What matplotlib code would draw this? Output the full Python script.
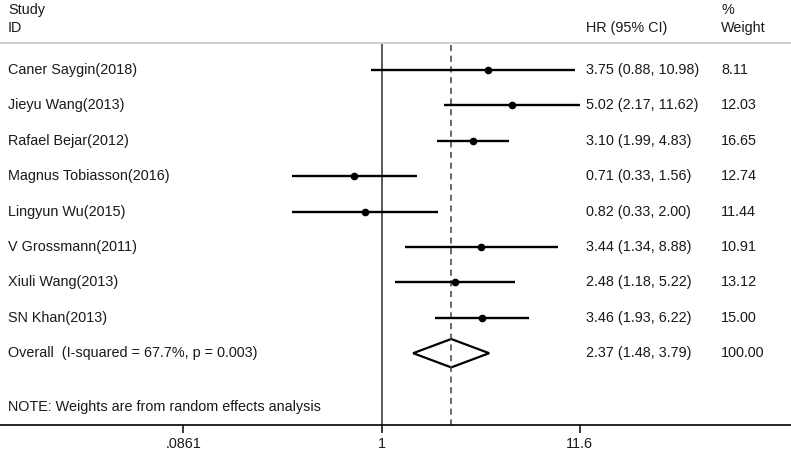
import numpy as np
import matplotlib.pyplot as plt

plt.rcParams["font.family"] = ["Liberation Sans", "DejaVu Sans"]

studies = ["Caner Saygin(2018)", "Jieyu Wang(2013)", "Rafael Bejar(2012)",
           "Magnus Tobiasson(2016)", "Lingyun Wu(2015)", "V Grossmann(2011)",
           "Xiuli Wang(2013)", "SN Khan(2013)"]
hr = [3.75, 5.02, 3.10, 0.71, 0.82, 3.44, 2.48, 3.46]
lo = [0.88, 2.17, 1.99, 0.33, 0.33, 1.34, 1.18, 1.93]
hi = [10.98, 11.62, 4.83, 1.56, 2.00, 8.88, 5.22, 6.22]
weights = ["8.11", "12.03", "16.65", "12.74", "11.44", "10.91", "13.12", "15.00"]
overall_label = "Overall  (I-squared = 67.7%, p = 0.003)"
overall = (2.37, 1.48, 3.79)
overall_weight = "100.00"
note = "NOTE: Weights are from random effects analysis"
xticks = [0.0861, 1, 11.6]
xticklabels = [".0861", "1", "11.6"]

W, H = 791, 451
fig = plt.figure(figsize=(W / 100, H / 100), dpi=100)
axis_px = 425
ax = fig.add_axes([0, (H - axis_px) / H, 1, axis_px / H])

# pixel layout of the original: x = 381.5 + 80.8 * ln(v), rows every 35.4 px
x0, k = 381.5, 80.8
ax.set_xscale("log")
ax.set_xlim(np.exp(-x0 / k), np.exp((W - x0) / k))
row0, step = 70, 35.4


def py(p):
    return (p - row0) / step


ax.set_ylim(py(axis_px), py(0))

fs = 10.4


def tx(px, y, s, **kw):
    ax.text(px / W, y, s, transform=ax.get_yaxis_transform(), fontsize=fs,
            va="center", color="#1a1a1a", **kw)


# headers
tx(8, py(10), "Study")
tx(8, py(28), "ID")
tx(586, py(28), "HR (95% CI)")
tx(721, py(10), "%")
tx(721, py(28), "Weight")
ax.axhline(py(43), color="#c8c8c8", lw=1.2)

# reference lines
ax.plot([1, 1], [py(45), py(axis_px)], color="#5a5a5a", lw=1.4)
ax.plot([overall[0]] * 2, [py(45), py(axis_px)], color="#404040", lw=1.1,
        dashes=(4, 3))

for i, name in enumerate(studies):
    ax.plot([lo[i], hi[i]], [i, i], color="black", lw=1.7, solid_capstyle="butt")
    ax.plot(hr[i], i, "o", color="black", ms=4.5)
    tx(8, i, name)
    tx(586, i, f"{hr[i]:.2f} ({lo[i]:.2f}, {hi[i]:.2f})")
    tx(721, i, weights[i])

# overall diamond
yo = len(studies)
est, l, h = overall
dh = 14.2 / step
ax.fill([l, est, h, est, l], [yo, yo - dh, yo, yo + dh, yo], facecolor="none",
        edgecolor="black", lw=1.6)
tx(8, yo, overall_label)
tx(586, yo, f"{est:.2f} ({l:.2f}, {h:.2f})")
tx(721, yo, overall_weight)

tx(8, py(407), note)

for s in ["top", "left", "right"]:
    ax.spines[s].set_visible(False)
ax.spines["bottom"].set_linewidth(1.2)
ax.set_yticks([])
ax.set_xticks(xticks)
ax.set_xticklabels(xticklabels, fontsize=fs)
ax.xaxis.set_minor_locator(plt.NullLocator())
ax.tick_params(axis="x", length=6, width=1.2, pad=2.5, colors="#1a1a1a")

fig.savefig("out.png", dpi=100)
